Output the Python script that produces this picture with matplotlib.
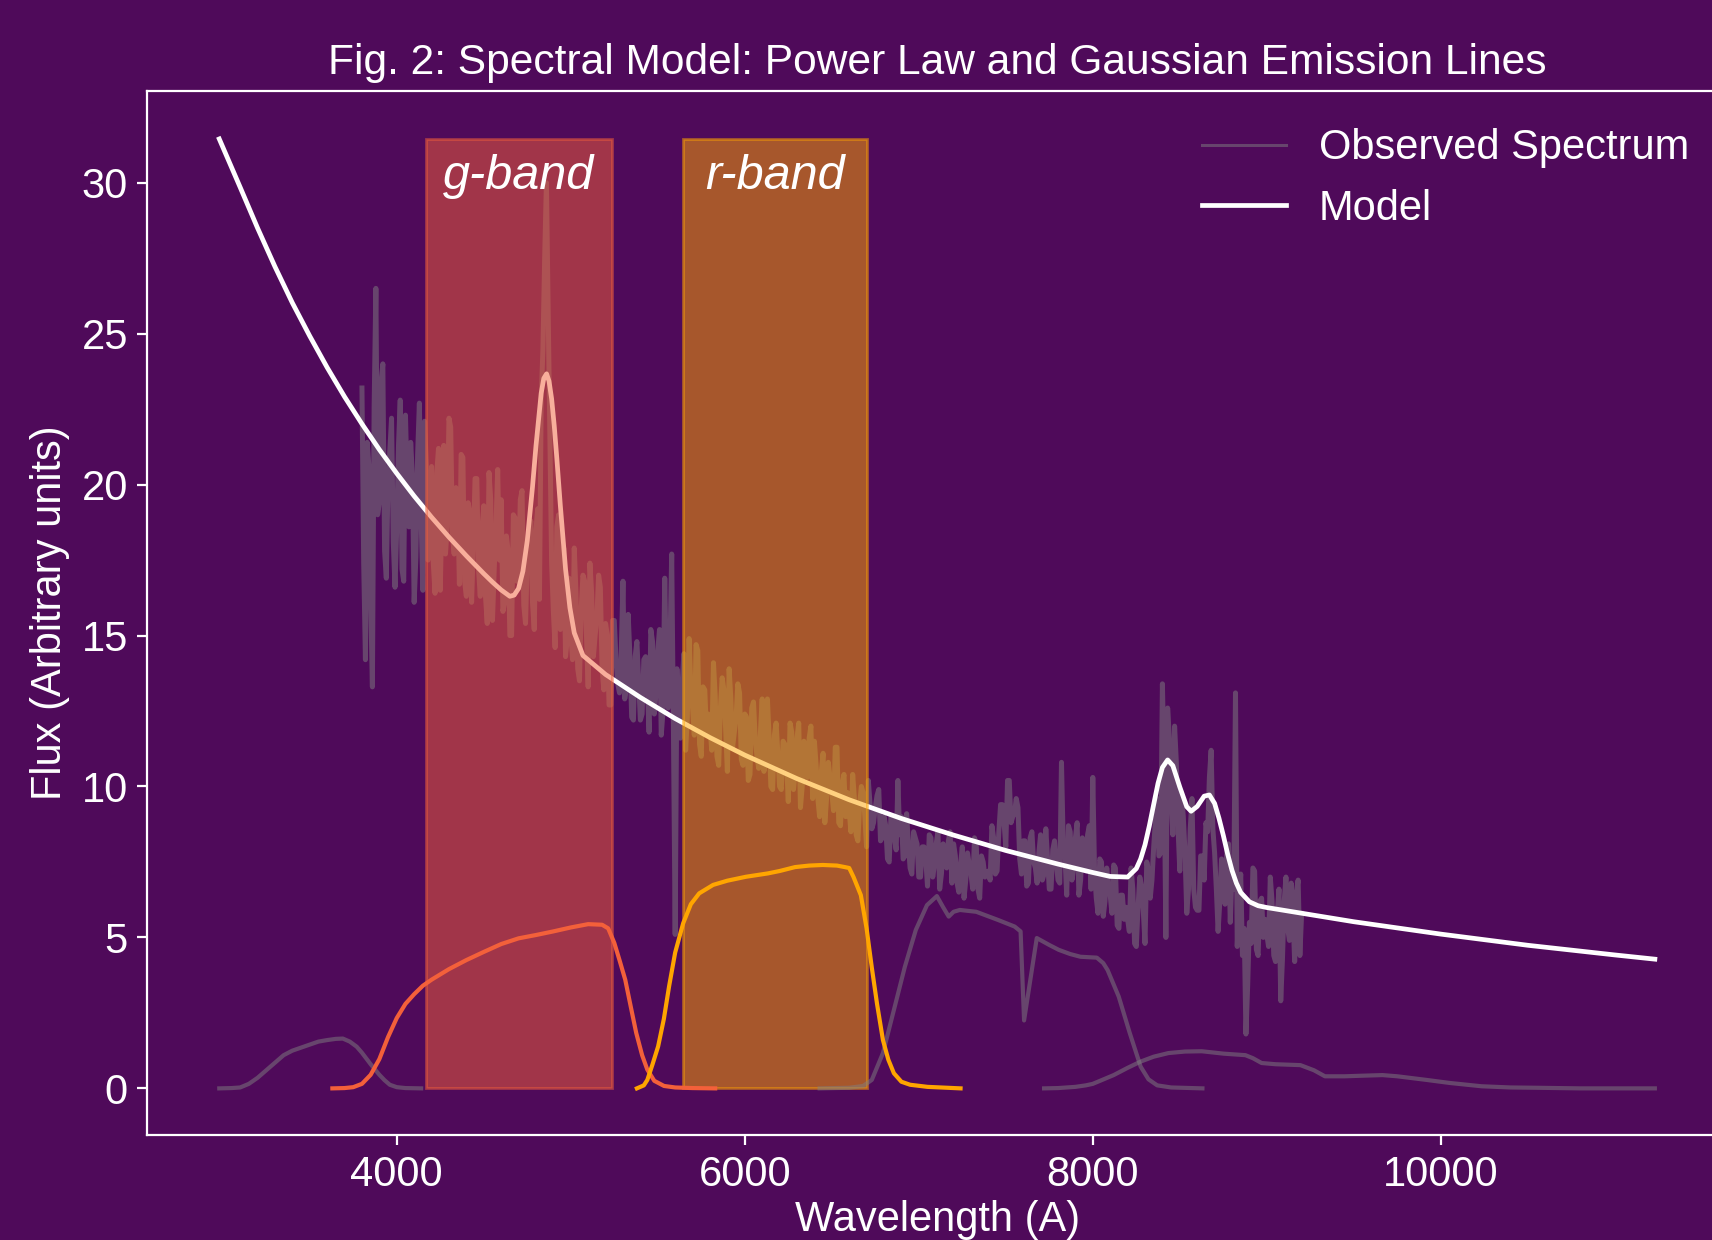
import matplotlib.pyplot as plt
from matplotlib.patches import Rectangle

plt.rcParams['font.family'] = ['Liberation Sans', 'DejaVu Sans']

BG = '#4f0a5a'

# observed spectrum, 10 A sampling from 3800 to 9200
# values at 3800, 3820, ... 9200
obs_flux_even = [
    23.2, 14.2, 20.6, 13.3, 26.5, 19.4, 24.0, 16.9, 21.1, 18.1,
    18.6, 22.8, 16.8, 20.0, 21.4, 16.1, 21.0, 18.9, 22.1, 17.5,
    20.6, 16.4, 21.2, 19.3, 17.7, 22.2, 18.3, 19.9, 16.7, 20.9,
    16.3, 19.1, 18.0, 20.2, 16.3, 19.3, 15.4, 19.5, 17.2, 20.5,
    19.5, 16.1, 17.8, 15.0, 18.9, 16.9, 19.8, 15.4, 18.0, 16.1,
    18.5, 16.2, 24.5, 30.0, 21.5, 15.8, 18.6, 15.2, 17.9, 14.9,
    15.1, 17.9, 13.9, 15.9, 16.8, 13.3, 16.4, 15.0, 17.0, 13.9,
    15.4, 12.7, 15.5, 14.2, 13.1, 16.8, 13.3, 14.3, 12.2, 14.8,
    12.2, 14.2, 13.4, 15.2, 12.4, 14.5, 11.7, 16.9, 12.6, 17.7,
    5.1, 12.0, 13.4, 11.2, 14.9, 12.6, 14.7, 11.4, 13.3, 11.8,
    12.0, 14.1, 11.0, 12.6, 13.2, 10.5, 12.9, 11.8, 13.4, 10.9,
    12.4, 10.2, 12.6, 11.6, 10.6, 12.9, 10.9, 11.6, 9.9, 12.1,
    10.0, 11.5, 10.8, 12.1, 9.9, 11.6, 9.3, 11.5, 10.3, 12.0,
    11.5, 9.6, 10.5, 8.8, 10.8, 9.8, 11.3, 8.8, 10.1, 9.0,
    9.2, 10.4, 8.4, 9.4, 9.8, 8.0, 9.4, 8.8, 9.7, 8.2,
    9.0, 7.6, 9.0, 8.3, 10.2, 9.0, 7.7, 8.1, 7.1, 8.3,
    7.0, 8.0, 7.6, 8.4, 7.0, 8.1, 6.6, 8.1, 7.3, 8.5,
    8.1, 6.8, 7.4, 6.3, 7.8, 7.1, 8.3, 6.6, 7.7, 7.0,
    7.2, 8.7, 7.1, 8.5, 9.4, 8.0, 10.2, 9.0, 9.6, 7.6,
    8.2, 6.7, 8.3, 7.5, 6.8, 8.4, 7.1, 7.6, 6.6, 8.2,
    6.9, 10.8, 7.7, 8.7, 6.9, 8.3, 6.4, 8.3, 7.2, 8.7,
    10.3, 6.3, 7.6, 5.7, 7.3, 6.4, 7.4, 5.4, 6.4, 5.6,
    5.6, 7.3, 4.8, 6.0, 6.7, 4.8, 7.2, 6.9, 8.9, 7.7,
    13.4, 5.0, 11.6, 8.4, 10.8, 7.2, 9.0, 5.8, 8.6, 6.6,
    5.9, 7.7, 6.9, 8.5, 11.2, 7.8, 5.2, 7.6, 6.1, 8.1,
    7.2, 13.1, 6.1, 4.4, 1.8, 5.5, 7.3, 4.6, 6.2, 5.0,
    5.1, 7.0, 4.4, 5.8, 2.9, 6.2, 5.3, 6.8, 4.2, 6.9, 5.8,
]
# values at 3810, 3830, ... 9190
obs_flux_odd = [
    17.4, 21.4, 16.2, 22.6, 19.0, 23.4, 17.8, 20.2, 22.2, 16.6,
    21.3, 17.2, 22.3, 18.6, 20.3, 17.6, 22.7, 16.5, 20.6, 19.3,
    17.4, 20.4, 16.5, 21.3, 18.6, 21.9, 17.7, 19.5, 21.0, 16.8,
    19.4, 16.1, 20.2, 17.2, 18.5, 16.3, 20.4, 15.5, 18.6, 17.5,
    15.8, 18.3, 15.0, 19.0, 16.8, 19.5, 16.0, 17.5, 18.8, 15.2,
    19.2, 22.8, 27.5, 25.8, 17.4, 14.6, 19.0, 16.8, 14.3, 16.9,
    14.2, 16.4, 13.5, 17.0, 15.1, 17.4, 14.3, 15.6, 16.6, 13.2,
    15.0, 12.7, 15.5, 13.4, 14.4, 12.9, 15.7, 12.3, 14.3, 13.5,
    12.4, 14.3, 11.8, 14.8, 13.1, 15.2, 12.5, 13.7, 14.6, 11.9,
    13.9, 11.6, 14.4, 12.3, 13.3, 11.7, 14.5, 11.0, 13.2, 12.4,
    11.2, 13.0, 10.7, 13.6, 11.9, 13.9, 11.3, 12.3, 13.1, 10.7,
    12.3, 10.4, 12.8, 11.0, 11.8, 10.5, 12.9, 10.0, 11.7, 11.1,
    9.9, 11.4, 9.5, 11.8, 10.5, 12.1, 10.0, 10.8, 11.6, 9.6,
    10.7, 9.0, 11.1, 9.6, 10.3, 9.2, 11.3, 8.7, 10.4, 9.8,
    8.5, 9.6, 8.2, 10.0, 9.0, 10.2, 8.6, 9.3, 9.9, 8.3,
    8.7, 7.5, 9.0, 7.9, 8.4, 7.6, 9.1, 7.3, 8.5, 8.1,
    7.0, 8.0, 6.7, 8.3, 7.4, 8.5, 7.1, 7.7, 8.2, 6.8,
    7.7, 6.5, 8.0, 6.9, 7.4, 6.6, 8.1, 6.3, 7.5, 7.1,
    6.9, 8.3, 7.2, 9.4, 8.8, 10.2, 8.8, 9.1, 9.3, 7.1,
    8.2, 6.8, 8.5, 7.3, 7.8, 6.9, 8.6, 6.6, 7.9, 7.5,
    6.8, 8.1, 6.4, 8.5, 7.3, 8.8, 6.9, 7.7, 8.4, 6.6,
    7.2, 5.8, 7.5, 6.2, 6.7, 5.8, 7.3, 5.3, 6.4, 6.0,
    5.2, 6.6, 4.7, 7.0, 5.9, 7.5, 6.3, 8.0, 9.6, 7.8,
    10.5, 12.6, 9.6, 12.0, 8.6, 9.8, 7.8, 6.6, 9.6, 6.0,
    5.9, 7.7, 8.8, 10.3, 8.6, 6.6, 6.2, 7.2, 7.9, 5.5,
    6.6, 4.7, 7.1, 5.3, 3.4, 4.8, 7.2, 4.4, 6.3, 5.6,
    4.7, 6.2, 4.2, 6.6, 4.3, 7.0, 4.9, 5.8, 6.5, 4.4,
]
obs_wave = list(range(3800, 9201, 10))

# model curve (power law + emission lines)
model_wave = [2980, 3100, 3200, 3300, 3400, 3500, 3600, 3700, 3800, 3900,
              4000, 4100, 4200, 4300, 4400, 4500, 4550, 4600, 4650, 4675,
              4700, 4725, 4750, 4780, 4800, 4830, 4845, 4861, 4875, 4890,
              4905, 4920, 4940, 4970, 4995, 5020, 5070, 5200, 5400, 5600,
              5800, 6000, 6300, 6600, 6900, 7200, 7500, 7800, 8000, 8100,
              8200, 8250, 8275, 8300, 8325, 8350, 8375, 8400, 8430, 8460,
              8500, 8540, 8565, 8600, 8640, 8670, 8700, 8725, 8750, 8775,
              8800, 8825, 8850, 8900, 8950, 9000, 9500, 10000, 10500, 11000,
              11230]
model_flux = [31.45, 29.85, 28.50, 27.22, 26.02, 24.92, 23.88, 22.91, 22.01, 21.16,
              20.37, 19.62, 18.92, 18.26, 17.64, 17.05, 16.77, 16.51, 16.30, 16.34,
              16.56, 17.13, 18.14, 19.92, 21.28, 23.03, 23.52, 23.67, 23.43, 22.84,
              21.95, 20.86, 19.31, 17.20, 15.92, 15.09, 14.34, 13.71, 12.95, 12.25,
              11.62, 11.04, 10.26, 9.56, 8.94, 8.39, 7.88, 7.43, 7.15, 7.02,
              7.00, 7.28, 7.60, 8.07, 8.70, 9.41, 10.11, 10.63, 10.88, 10.69,
              9.98, 9.33, 9.18, 9.34, 9.68, 9.72, 9.44, 8.95, 8.38, 7.76,
              7.22, 6.80, 6.49, 6.18, 6.05, 5.99, 5.52, 5.11, 4.74, 4.42,
              4.28]

# filter transmission curves (scaled)
u_wave = [2980, 3050, 3100, 3150, 3200, 3250, 3300, 3350, 3400, 3450, 3500, 3550,
          3600, 3650, 3690, 3730, 3770, 3800, 3850, 3900, 3930, 3960, 4000, 4050, 4140]
u_resp = [0.0, 0.01, 0.03, 0.15, 0.35, 0.6, 0.85, 1.1, 1.25, 1.35, 1.45, 1.55,
          1.6, 1.64, 1.65, 1.55, 1.38, 1.18, 0.8, 0.45, 0.27, 0.12, 0.04, 0.01, 0.0]

g_wave = [3630, 3700, 3750, 3800, 3850, 3900, 3950, 4000, 4050, 4100, 4150, 4200,
          4300, 4400, 4500, 4600, 4700, 4800, 4900, 5000, 5100, 5180, 5215, 5250,
          5280, 5313, 5345, 5376, 5410, 5440, 5480, 5536, 5600, 5700, 5830]
g_resp = [0.0, 0.01, 0.04, 0.15, 0.45, 0.97, 1.7, 2.33, 2.8, 3.12, 3.4, 3.6,
          3.95, 4.25, 4.52, 4.78, 4.97, 5.08, 5.2, 5.33, 5.44, 5.42, 5.3, 4.82,
          4.25, 3.6, 2.7, 1.84, 1.1, 0.62, 0.25, 0.08, 0.03, 0.01, 0.0]

r_wave = [5380, 5420, 5440, 5470, 5502, 5535, 5565, 5600, 5646, 5690, 5738, 5818,
          5900, 6007, 6132, 6200, 6289, 6370, 6448, 6530, 6575, 6600, 6625, 6667,
          6700, 6730, 6760, 6794, 6825, 6857, 6900, 6950, 7050, 7240]
r_resp = [0.0, 0.1, 0.28, 0.8, 1.39, 2.3, 3.38, 4.5, 5.47, 6.1, 6.46, 6.74,
          6.88, 7.01, 7.12, 7.2, 7.33, 7.38, 7.40, 7.38, 7.33, 7.3, 7.0, 6.4,
          5.3, 4.0, 2.8, 1.6, 0.95, 0.5, 0.22, 0.12, 0.05, 0.0]

i_wave = [6430, 6600, 6680, 6730, 6794, 6857, 6920, 6983, 7047, 7104, 7140, 7172,
          7200, 7236, 7330, 7455, 7551, 7585, 7605, 7678, 7750, 7804, 7870, 7929,
          8023, 8060, 8085, 8149, 8212, 8275, 8320, 8370, 8450, 8630]
i_resp = [0.0, 0.02, 0.08, 0.28, 1.17, 2.6, 4.03, 5.25, 6.07, 6.37, 6.0, 5.69,
          5.85, 5.91, 5.85, 5.58, 5.36, 5.2, 2.25, 4.98, 4.75, 4.59, 4.45, 4.36,
          4.33, 4.15, 3.92, 3.04, 1.84, 0.72, 0.3, 0.1, 0.03, 0.0]

z_wave = [7720, 7800, 7900, 7960, 8000, 8120, 8200, 8276, 8350, 8435, 8530, 8626,
          8752, 8877, 8920, 8970, 9050, 9193, 9271, 9334, 9447, 9550, 9665, 9750,
          9918, 10050, 10234, 10400, 10550, 10800, 11230]
z_resp = [0.0, 0.01, 0.05, 0.1, 0.15, 0.44, 0.68, 0.89, 1.05, 1.17, 1.22, 1.23,
          1.15, 1.1, 1.0, 0.84, 0.8, 0.77, 0.6, 0.4, 0.4, 0.42, 0.44, 0.4,
          0.28, 0.18, 0.07, 0.03, 0.02, 0.0, 0.0]

band_names = ['g-band', 'r-band']
band_ranges = [(4170, 5235), (5645, 6700)]
band_colors = ['#f3603a', 'orange']


def main():
    obs_flux = []
    for a, b in zip(obs_flux_even, obs_flux_odd):
        obs_flux += [a, b]
    obs_flux.append(obs_flux_even[-1])

    fig = plt.figure(figsize=(8.56, 6.2), dpi=200, facecolor=BG)
    ax = fig.add_axes([0.0861, 0.0843, 0.9225, 0.8426])
    ax.set_facecolor(BG)

    line_obs, = ax.plot(obs_wave, obs_flux, color='grey', alpha=0.5, linewidth=1.8,
                        zorder=1)
    ax.plot(model_wave, model_flux, color='white', linewidth=1.7,
            label='Model', zorder=2)
    # thinner handle for the legend
    ax.plot([], [], color='grey', alpha=0.5, linewidth=1.1, label='Observed Spectrum')

    top = max(model_flux)
    for name, (lo, hi), col in zip(band_names, band_ranges, band_colors):
        ax.add_patch(Rectangle((lo, 0), hi - lo, top, facecolor=col,
                               edgecolor=col, alpha=0.5, linewidth=1, zorder=3))
        ax.text((lo + hi) / 2, top * 0.96, name, color='white', fontsize=17.5,
                style='italic', ha='center', va='center', zorder=5)

    for w, r in [(u_wave, u_resp), (i_wave, i_resp), (z_wave, z_resp)]:
        ax.plot(w, r, color='grey', alpha=0.5, linewidth=1.5, zorder=4)
    ax.plot(g_wave, g_resp, color=band_colors[0], linewidth=1.5, zorder=4)
    ax.plot(r_wave, r_resp, color=band_colors[1], linewidth=1.5, zorder=4)

    ax.set_xlim(2567, 11643)
    ax.set_ylim(-1.56, 33.05)

    for s in ax.spines.values():
        s.set_color('white')
    ax.tick_params(colors='white', labelsize=15)

    ax.set_title('Fig. 2: Spectral Model: Power Law and Gaussian Emission Lines',
                 color='white', fontsize=15.3)
    ax.set_xlabel('Wavelength (A)', color='white', fontsize=15, labelpad=2)
    ax.set_ylabel('Flux (Arbitrary units)', color='white', fontsize=15)

    handles, labels = ax.get_legend_handles_labels()
    leg = ax.legend(handles[::-1], labels[::-1], loc='upper right',
                    frameon=False, fontsize=15)
    for t in leg.get_texts():
        t.set_color('white')

    plt.savefig('out.png', dpi=200, facecolor=BG)


main()
